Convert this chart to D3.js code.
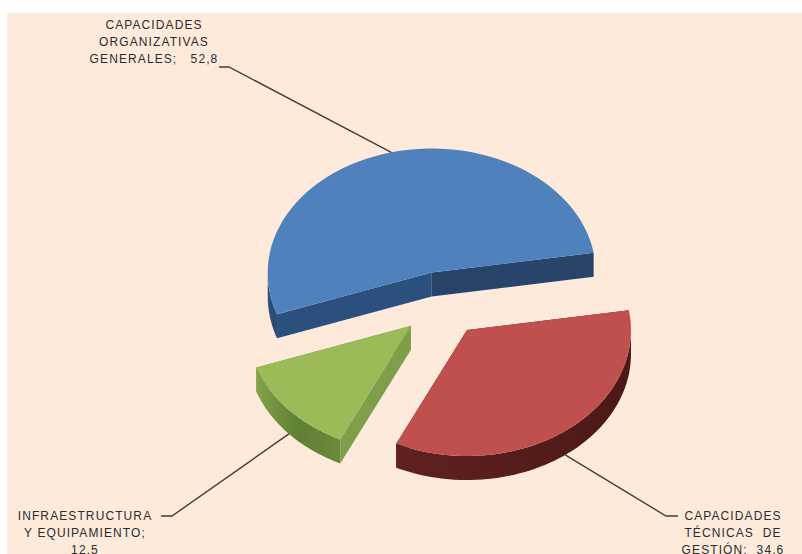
<!DOCTYPE html>
<html>
<head>
<meta charset="utf-8">
<script src="https://cdn.jsdelivr.net/npm/d3@7"></script>
<style>
  html, body { margin: 0; padding: 0; background: #fff; }
  svg { display: block; }
  text { font-family: "Liberation Sans", Arial, sans-serif; white-space: pre; }
</style>
</head>
<body>
<svg id="chart" width="802" height="554"></svg>
<script>
// Survey scores by capability area
const categories = ["CAPACIDADES ORGANIZATIVAS GENERALES", "CAPACIDADES TÉCNICAS DE GESTIÓN", "INFRAESTRUCTURA Y EQUIPAMIENTO"];
const values = [52.8, 34.6, 12.5];

// Label text broken into lines; the value is appended to the slot marked by {v}
const labelLines = [
  ["CAPACIDADES", "ORGANIZATIVAS", "GENERALES;   {v}"],
  ["CAPACIDADES", "TÉCNICAS  DE", "GESTIÓN;  {v}"],
  ["INFRAESTRUCTURA", "Y EQUIPAMIENTO;", "{v}"]
];

// Slice colours: top surface, the two cut faces, outer wall gradient stops
const topColors = ["#4f81bd", "#c0504d", "#9bbb59"];
const faceColors = [["#2c507e", "#29446a"], ["#5a1f1e", "#5a1f1e"], ["#7f9e4a", "#7f9e4a"]];
const wallStops = [
  ["#2c527f", "#2a4a73"],
  ["#5e2120", "#4c1918"],
  ["#83a24c", "#5f7f33", "#6d8b3c"]
];

// Projection of the tilted pie; the near half of the ellipse reads slightly deeper
const W = 802, H = 554;
const cx = 442, cy = 304, rx = 164, ryBack = 124, ryFront = 126, depth = 24, explode = 41.7, explodeTilt = 0.78;
const startAngle = -109.4 * Math.PI / 180;

// Label placement: centre x, first baseline, elbow start and elbow end x/y
const labelPos = [
  { x: 154, y: 29, line: 17, ex: 219, ey: 67, bx: 229 },
  { x: 733, y: 520, line: 17, ex: 678, ey: 516, bx: 666 },
  { x: 85, y: 520, line: 17, ex: 161, ey: 516, bx: 172 }
];

const svg = d3.select("#chart");
const defs = svg.append("defs");

svg.append("rect").attr("x", 7).attr("y", 13).attr("width", W - 7).attr("height", H - 13).attr("fill", "#fdeadb");

const pie = d3.pie().sort(null).startAngle(startAngle).endAngle(startAngle + 2 * Math.PI);
const arcs = pie(values);
const fmt = v => d3.format(".1f")(v).replace(".", ",");

// Angles run clockwise from twelve o'clock, as d3.pie gives them
const project = (a, o) => {
  const c = Math.cos(a);
  return [o.x + rx * Math.sin(a), o.y - (c > 0 ? ryBack : ryFront) * c];
};
const line = d3.line();
const down = p => [p[0], p[1] + depth];

const slices = arcs.map((d, i) => {
  const mid = (d.startAngle + d.endAngle) / 2;
  const o = { x: cx + explode * Math.sin(mid), y: cy - explode * explodeTilt * Math.cos(mid) };
  return { d, i, mid, o };
});

function rimPoints(a0, a1, o) {
  return d3.range(0, 61).map(k => project(a0 + (a1 - a0) * k / 60, o));
}

// Lower half of the ellipse is where the outer wall faces the viewer
function visibleWall(a0, a1) {
  const spans = [];
  for (let turn = -1; turn <= 1; turn++) {
    const lo = Math.max(a0, Math.PI / 2 + turn * 2 * Math.PI);
    const hi = Math.min(a1, 3 * Math.PI / 2 + turn * 2 * Math.PI);
    if (hi > lo) spans.push([lo, hi]);
  }
  return spans;
}

const g = svg.append("g");

slices.forEach(s => {
  const { d, i, o } = s;
  const apex = [o.x, o.y];

  // Cut faces running from the apex out to each end of the rim
  [d.startAngle, d.endAngle].forEach((a, n) => {
    const rim = project(a, o);
    g.append("path")
      .attr("d", line([apex, rim, down(rim), down(apex)]) + "Z")
      .attr("fill", faceColors[i][n]);
  });

  // Outer wall with a horizontal shading
  visibleWall(d.startAngle, d.endAngle).forEach((span, k) => {
    const pts = rimPoints(span[0], span[1], o);
    const id = `wall-${i}-${k}`;
    const xs = d3.extent(pts, p => p[0]);
    const grad = defs.append("linearGradient").attr("id", id)
      .attr("gradientUnits", "userSpaceOnUse")
      .attr("x1", xs[0]).attr("x2", xs[1]).attr("y1", 0).attr("y2", 0);
    wallStops[i].forEach((c, n) => {
      grad.append("stop").attr("offset", n / (wallStops[i].length - 1)).attr("stop-color", c);
    });
    g.append("path")
      .attr("d", line(pts.concat(pts.slice().reverse().map(down))) + "Z")
      .attr("fill", `url(#${id})`);
  });

  // Top surface
  g.append("path")
    .attr("d", line([apex].concat(rimPoints(d.startAngle, d.endAngle, o))) + "Z")
    .attr("fill", topColors[i]);
});

// Leader lines from each label to the middle of its slice rim
slices.forEach(s => {
  const pos = labelPos[s.i];
  const inFront = Math.cos(s.mid) < 0;
  let tip = project(s.mid, s.o);
  if (inFront) tip = down(tip);
  svg.append("path")
    .attr("d", line([[pos.ex, pos.ey], [pos.bx, pos.ey], tip]))
    .attr("fill", "none")
    .attr("stroke", "#403f37")
    .attr("stroke-width", 1.4);
});

// Data labels
slices.forEach(s => {
  const pos = labelPos[s.i];
  const t = svg.append("text")
    .attr("text-anchor", "middle")
    .attr("font-size", 12)
    .attr("letter-spacing", 1.1)
    .attr("fill", "#2c2c2c")
    .attr("aria-label", `${categories[s.i]}: ${fmt(values[s.i])}`);
  labelLines[s.i].forEach((l, n) => {
    t.append("tspan")
      .attr("x", pos.x)
      .attr("y", pos.y + n * pos.line)
      .text(l.replace("{v}", fmt(values[s.i])));
  });
});
</script>
</body>
</html>
